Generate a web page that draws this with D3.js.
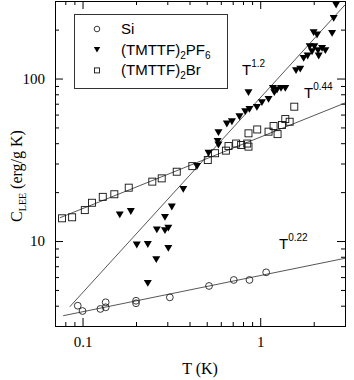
<!DOCTYPE html>
<html lang="en">
<head>
<meta charset="UTF-8">
<title></title>
<script src="https://cdn.jsdelivr.net/npm/d3@7"></script>
<style>
  body { margin: 0; background: #fff; }
  svg { display: block; }
</style>
</head>
<body>
<script>
const width = 354, height = 380;
const marginTop = 1, marginRight = 9, marginBottom = 54, marginLeft = 55;

// Si (open circles)
const siT = [0.094, 0.1, 0.126, 0.135, 0.135, 0.2, 0.2, 0.31, 0.515, 0.71, 0.87, 1.08];
const siC = [4.0, 3.71, 3.82, 4.2, 3.91, 4.29, 4.14, 4.5, 5.29, 5.76, 5.76, 6.42];

// (TMTTF)2PF6 (filled triangles)
const pfT = [0.162, 0.187, 0.202, 0.233, 0.233, 0.262, 0.26, 0.291, 0.291, 0.304, 0.304, 0.318,
  0.369, 0.441, 0.512, 0.576, 0.582, 0.582, 0.649, 0.693, 0.764, 0.823, 0.87, 0.958, 1.022,
  1.114, 0.859, 1.179, 1.242, 1.309, 1.384, 1.2, 1.59, 1.68, 1.755, 1.849, 1.957, 1.897,
  2.017, 2.116, 2.228, 2.326, 2.133, 1.998, 2.538, 2.673, 2.591, 2.088];
const pfC = [14.5, 15.2, 9.45, 9.52, 5.49, 11.7, 7.69, 14.0, 11.6, 12.0, 9.02, 16.2,
  20.8, 28.8, 34.7, 41.0, 39.0, 46.4, 52.5, 54.2, 58.2, 62.5, 64.6, 66.5, 71.0,
  74.5, 81.8, 87.0, 85.0, 87.0, 87.0, 81.8, 111.7, 114.4, 133.2, 137.6, 146.2, 157.0,
  157.0, 148.3, 153.4, 148.3, 137.6, 191.4, 189.8, 283.4, 234.7, 185.3];

// (TMTTF)2Br (open squares)
const brT = [0.0767, 0.0874, 0.103, 0.113, 0.13, 0.151, 0.182, 0.247, 0.279, 0.339, 0.415,
  0.507, 0.557, 0.641, 0.663, 0.732, 0.781, 0.845, 0.859, 0.859, 0.962, 1.114, 1.189,
  1.252, 1.326, 1.384, 1.464, 1.555];
const brC = [13.8, 14.0, 15.5, 17.2, 18.7, 19.4, 21.3, 23.2, 24.3, 26.7, 28.9,
  31.5, 34.7, 36.0, 38.4, 39.8, 39.0, 39.8, 38.1, 46.0, 48.6, 47.1, 51.0,
  45.5, 51.8, 56.3, 54.2, 67.1];

// power-law guide lines, end points [T, C]
const siFit = [[0.0778, 3.47], [3, 7.83]];
const pfFit = [[0.0848, 3.94], [3, 284]];
const brFit = [[0.0745, 13.9], [3, 70.7]];

const xMajor = [0.1, 1];
const yMajor = [10, 100];
const xTickLabels = ["0.1", "1"];
const yTickLabels = ["10", "100"];

const legendNames = ["Si", "PF", "Br"];

const svg = d3.select("body").append("svg")
  .attr("width", width).attr("height", height)
  .attr("viewBox", [0, 0, width, height]);

const x = d3.scaleLog().domain([0.07, 3]).range([marginLeft, width - marginRight]);
const y = d3.scaleLog().domain([3, 300]).range([height - marginBottom, marginTop]);

const xMinor = x.ticks().filter(d => !xMajor.some(m => Math.abs(m - d) < 1e-9));
const yMinor = y.ticks().filter(d => !yMajor.some(m => Math.abs(m - d) < 1e-9));

const serif = "'Liberation Serif', 'DejaVu Serif', serif";
const sans = "'Liberation Sans', Arial, sans-serif";

// axes, ticks pointing inward
const plotBottom = height - marginBottom, plotTop = marginTop;
const plotLeft = marginLeft, plotRight = width - marginRight;

function styleAxis(g) {
  g.select(".domain").remove();
  g.selectAll("line").attr("stroke", "#000").attr("stroke-width", 1);
  g.selectAll("text").attr("font-family", serif).attr("font-size", 15).attr("fill", "#000");
}

svg.append("g").attr("transform", `translate(0,${plotBottom})`)
  .call(d3.axisBottom(x).tickValues(xMajor).tickSize(-8).tickPadding(10)
    .tickFormat((d, i) => xTickLabels[i]))
  .call(styleAxis);
svg.append("g").attr("transform", `translate(0,${plotBottom})`)
  .call(d3.axisBottom(x).tickValues(xMinor).tickSize(-4).tickFormat(""))
  .call(styleAxis);
svg.append("g").attr("transform", `translate(0,${plotTop})`)
  .call(d3.axisTop(x).tickValues(xMajor).tickSize(-8).tickFormat(""))
  .call(styleAxis);
svg.append("g").attr("transform", `translate(0,${plotTop})`)
  .call(d3.axisTop(x).tickValues(xMinor).tickSize(-4).tickFormat(""))
  .call(styleAxis);

svg.append("g").attr("transform", `translate(${plotLeft},0)`)
  .call(d3.axisLeft(y).tickValues(yMajor).tickSize(-8).tickPadding(10)
    .tickFormat((d, i) => yTickLabels[i]))
  .call(styleAxis);
svg.append("g").attr("transform", `translate(${plotLeft},0)`)
  .call(d3.axisLeft(y).tickValues(yMinor).tickSize(-4).tickFormat(""))
  .call(styleAxis);
svg.append("g").attr("transform", `translate(${plotRight},0)`)
  .call(d3.axisRight(y).tickValues(yMajor).tickSize(-8).tickFormat(""))
  .call(styleAxis);
svg.append("g").attr("transform", `translate(${plotRight},0)`)
  .call(d3.axisRight(y).tickValues(yMinor).tickSize(-4).tickFormat(""))
  .call(styleAxis);

svg.append("rect")
  .attr("x", plotLeft + 0.5).attr("y", plotTop + 0.5)
  .attr("width", plotRight - plotLeft).attr("height", plotBottom - plotTop)
  .attr("fill", "none").attr("stroke", "#000").attr("stroke-width", 1);

// axis titles
svg.append("text")
  .attr("x", 200).attr("y", 374)
  .attr("text-anchor", "middle")
  .attr("font-family", serif).attr("font-size", 16)
  .text("T (K)");

const yt = svg.append("text")
  .attr("transform", "translate(22,176) rotate(-90)")
  .attr("text-anchor", "middle")
  .attr("font-family", serif).attr("font-size", 16);
yt.append("tspan").text("C");
yt.append("tspan").attr("dy", 4).attr("font-size", 10).text("LEE");
yt.append("tspan").attr("dy", -4).text(" (erg/g K)");

// fit lines
const line = d3.line().x(d => x(d[0])).y(d => y(d[1]));
svg.append("g")
  .selectAll("path")
  .data([siFit, pfFit, brFit])
  .join("path")
  .attr("d", line)
  .attr("fill", "none")
  .attr("stroke", "#444")
  .attr("stroke-width", 0.9);

// markers
const tri = s => `M${-s},${-s * 0.85}L${s},${-s * 0.85}L0,${s * 0.85}Z`;

svg.append("g")
  .selectAll("path")
  .data(d3.zip(pfT, pfC))
  .join("path")
  .attr("transform", d => `translate(${x(d[0])},${y(d[1])})`)
  .attr("d", tri(4))
  .attr("fill", "#000");

svg.append("g")
  .selectAll("rect")
  .data(d3.zip(brT, brC))
  .join("rect")
  .attr("x", d => x(d[0]) - 3.5).attr("y", d => y(d[1]) - 3.5)
  .attr("width", 7).attr("height", 7)
  .attr("fill", "none").attr("stroke", "#111").attr("stroke-width", 0.9);

svg.append("g")
  .selectAll("circle")
  .data(d3.zip(siT, siC))
  .join("circle")
  .attr("cx", d => x(d[0])).attr("cy", d => y(d[1]))
  .attr("r", 3.4)
  .attr("fill", "none").attr("stroke", "#222").attr("stroke-width", 0.9);

// power-law labels
function powerLabel(px, py, exp) {
  const t = svg.append("text")
    .attr("x", px).attr("y", py)
    .attr("font-family", sans).attr("font-size", 15);
  t.append("tspan").text("T");
  t.append("tspan").attr("dy", -8).attr("font-size", 10).text(exp);
}
powerLabel(242, 75, "1.2");
powerLabel(304, 98, "0.44");
powerLabel(279, 249, "0.22");

// legend
const lg = svg.append("g");
lg.append("rect")
  .attr("x", 74.5).attr("y", 14.5).attr("width", 153).attr("height", 74)
  .attr("fill", "#fff").attr("stroke", "#333").attr("stroke-width", 1);

const rowY = i => 29 + i * 20.7;
lg.append("circle").attr("cx", 97).attr("cy", rowY(0)).attr("r", 2.8)
  .attr("fill", "none").attr("stroke", "#222").attr("stroke-width", 0.9);
lg.append("path").attr("transform", `translate(97,${rowY(1)})`).attr("d", tri(3.2)).attr("fill", "#000");
lg.append("rect").attr("x", 94.5).attr("y", rowY(2) - 2.5).attr("width", 5).attr("height", 5)
  .attr("fill", "none").attr("stroke", "#111").attr("stroke-width", 0.9);

lg.selectAll("text.name")
  .data(legendNames)
  .join("text")
  .attr("class", "name")
  .attr("x", 121)
  .attr("y", (d, i) => rowY(i) + 5)
  .attr("font-family", sans).attr("font-size", 15)
  .each(function(d) {
    const t = d3.select(this);
    if (d === "Si") { t.text("Si"); return; }
    t.append("tspan").text("(TMTTF)");
    t.append("tspan").attr("dy", 4).attr("font-size", 10).text("2");
    t.append("tspan").attr("dy", -4).text(d === "PF" ? "PF" : "Br");
    if (d === "PF") t.append("tspan").attr("dy", 4).attr("font-size", 10).text("6");
  });
</script>
</body>
</html>
